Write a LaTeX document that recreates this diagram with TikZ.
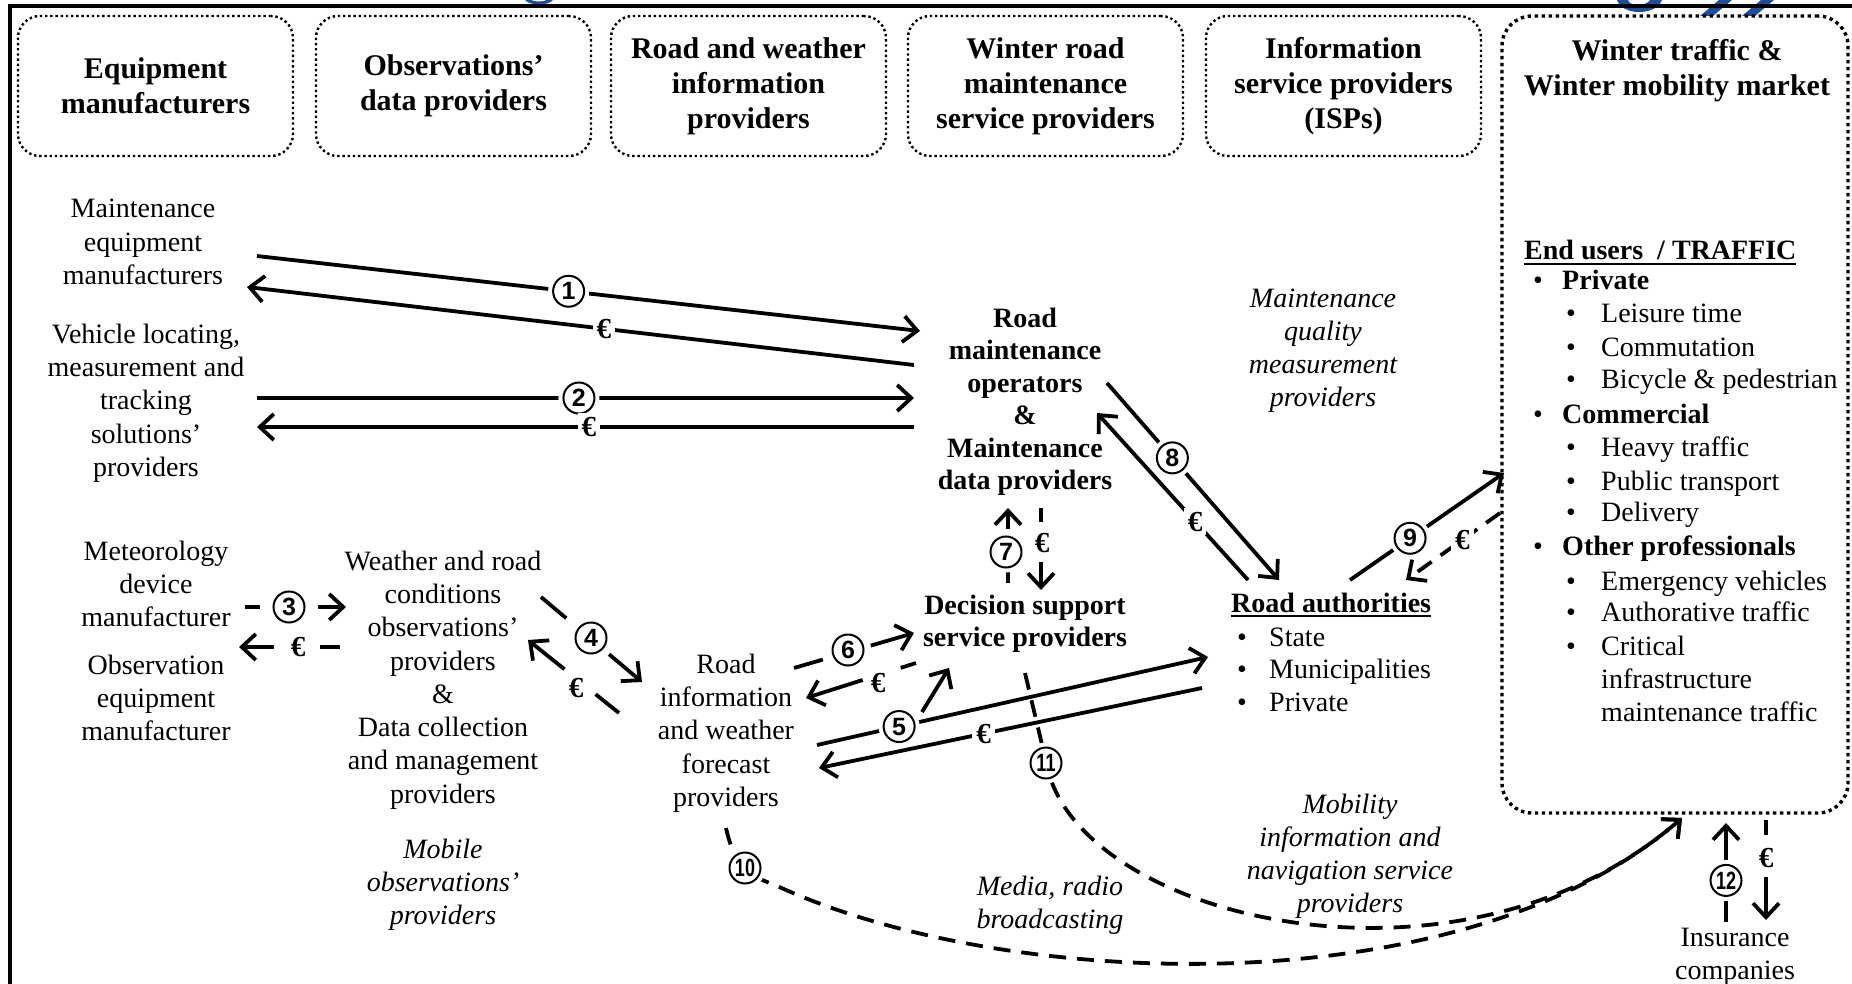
\documentclass[tikz,border=0pt]{standalone}
\usepackage{fontspec}
\usepackage{graphicx}
\setmainfont{Liberation Serif}
\newfontfamily\numfont{Liberation Sans}
\usetikzlibrary{arrows.meta}
\definecolor{logoblue}{RGB}{28,78,158}
\newcommand\myul[1]{\setbox0\hbox{#1}\rlap{\raisebox{-5pt}{\rule{\wd0}{1.8pt}}}\box0}
\newcommand\cn[1]{\scalebox{0.72}[1]{#1}}
\begin{document}
\begin{tikzpicture}[x=1pt,y=-1pt,
  hbox/.style={draw, line width=2.4pt, dash pattern=on 2.4pt off 2.8pt, rounded corners=22pt, minimum width=275pt, minimum height=140pt, align=center, inner sep=0pt, font=\fontsize{30}{35}\selectfont\bfseries},
  bigbox/.style={draw, line width=3.4pt, dash pattern=on 3.4pt off 3.6pt, rounded corners=30pt, minimum width=346pt, minimum height=797pt, inner sep=0pt},
  txt/.style={align=center, inner sep=0pt, font=\fontsize{28}{33.3}\selectfont},
  btxt/.style={align=center, inner sep=0pt, font=\fontsize{28}{32.5}\selectfont\bfseries},
  itxt/.style={align=center, inner sep=0pt, font=\fontsize{28}{33}\selectfont\itshape},
  ltxt/.style={anchor=base west, inner sep=0pt, font=\fontsize{28}{33}\selectfont},
  conn/.style={line width=3.8pt},
  arr/.style={conn, -{Straight Barb[length=14pt,width=26pt]}},
  dsh/.style={dash pattern=on 17pt off 11pt},
  circ/.style={circle, draw, line width=2pt, fill=white, minimum size=31pt, inner sep=0pt, font=\numfont\bfseries\fontsize{25}{25}\selectfont, preaction={draw=white, line width=10pt}},
  eur/.style={fill=white, inner sep=4pt, font=\fontsize{29}{29}\selectfont\bfseries},
  eurn/.style={inner sep=0pt, font=\fontsize{29}{29}\selectfont\bfseries},
]
\useasboundingbox (0,0) rectangle (1852,984);
\fill[white] (0,0) rectangle (1852,984);

% logo fragments
\fill[logoblue] (1617,0) .. controls (1622,16) and (1656,16) .. (1662,0) -- (1650,0) .. controls (1645,7) and (1630,7) .. (1628,0) -- cycle;
\fill[logoblue] (1700,16) -- (1713,16) -- (1732,0) -- (1719,0) -- cycle;
\fill[logoblue] (1742,16) -- (1755,16) -- (1774,0) -- (1761,0) -- cycle;
\fill[logoblue] (525,0) .. controls (530,6) and (548,6) .. (553,0) -- (547,0) .. controls (543,2) and (535,2) .. (531,0) -- cycle;

% frame
\draw[line width=4pt] (8,6.5) -- (1852,6.5);
\draw[line width=4pt] (10,4.5) -- (10,984);

% heading boxes
\node[hbox] (h1) at (155.5,86) {Equipment\\manufacturers};
\node[hbox] (h2) at (453.5,86) {Observations’\\data providers};
\node[hbox] (h3) at (748.5,86) {Road and weather\\information\\providers};
\node[hbox] (h4) at (1045.5,86) {Winter road\\maintenance\\service providers};
\node[hbox] (h5) at (1343.5,86) {Information\\service providers\\(ISPs)};
\node[bigbox] (h6) at (1675,414.5) {};
\node[font=\fontsize{30}{35}\selectfont\bfseries, align=center, inner sep=0pt] (h6t) at (1677,71) {Winter traffic \&\\Winter mobility market};

% actors
\node[txt] (t1) at (143,242) {Maintenance\\equipment\\manufacturers};
\node[txt] (t2) at (146,403) {Vehicle locating,\\measurement and\\tracking\\solutions’\\providers};
\node[txt] (t3) at (156,584) {Meteorology\\device\\manufacturer};
\node[txt] (t4) at (156,698) {Observation\\equipment\\manufacturer};
\node[txt] (t5) at (443,680) {Weather and road\\conditions\\observations’\\providers\\\&\\Data collection\\and management\\providers};
\node[itxt] (t6) at (443,885) {Mobile\\observations’\\providers};
\node[txt] (t7) at (726,733) {Road\\information\\and weather\\forecast\\providers};
\node[btxt] (t8) at (1025,402) {Road\\maintenance\\operators\\\&\\Maintenance\\data providers};
\node[btxt] (t9) at (1025,624) {Decision support\\service providers};
\node[itxt] (t10) at (1323,351) {Maintenance\\quality\\measurement\\providers};
\node[itxt] (t13) at (1050,905) {Media, radio\\broadcasting};
\node[itxt] (t14) at (1350,856) {Mobility\\information and\\navigation service\\providers};
\node[txt] (t15) at (1735,957) {Insurance\\companies};

% road authorities
\node[ltxt, font=\fontsize{28}{33}\selectfont\bfseries] (ra) at (1231,612) {\myul{Road authorities}};
\node[ltxt] (ra1) at (1237,646) {\makebox[32pt][l]{•}State};
\node[ltxt] (ra2) at (1237,678) {\makebox[32pt][l]{•}Municipalities};
\node[ltxt] (ra3) at (1237,711) {\makebox[32pt][l]{•}Private};

% end users
\node[ltxt, font=\fontsize{28}{33}\selectfont\bfseries] (eu0) at (1524,260) {\myul{End users~~/ TRAFFIC}};
\node[ltxt] (eu1) at (1533,290) {\makebox[29pt][l]{•}\textbf{Private}};
\node[ltxt] (eu2) at (1566,323) {\makebox[35pt][l]{•}Leisure time};
\node[ltxt] (eu3) at (1566,356) {\makebox[35pt][l]{•}Commutation};
\node[ltxt] (eu4) at (1566,388) {\makebox[35pt][l]{•}Bicycle \& pedestrian};
\node[ltxt] (eu5) at (1533,423) {\makebox[29pt][l]{•}\textbf{Commercial}};
\node[ltxt] (eu6) at (1566,456) {\makebox[35pt][l]{•}Heavy traffic};
\node[ltxt] (eu7) at (1566,490) {\makebox[35pt][l]{•}Public transport};
\node[ltxt] (eu8) at (1566,521) {\makebox[35pt][l]{•}Delivery};
\node[ltxt] (eu9) at (1533,555) {\makebox[29pt][l]{•}\textbf{Other professionals}};
\node[ltxt] (eu10) at (1566,590) {\makebox[35pt][l]{•}Emergency vehicles};
\node[ltxt] (eu11) at (1566,621) {\makebox[35pt][l]{•}Authorative traffic};
\node[ltxt] (eu12) at (1566,655) {\makebox[35pt][l]{•}Critical};
\node[ltxt] (eu13) at (1601,688) {infrastructure};
\node[ltxt] (eu14) at (1601,721) {maintenance traffic};

% coordinates
\coordinate (a1s) at (257,256);  \coordinate (a1e) at (920,331);
\coordinate (a1rs) at (914,365); \coordinate (a1re) at (247,287);
\coordinate (a2s) at (257,398);  \coordinate (a2e) at (914,398);
\coordinate (a2rs) at (914,427); \coordinate (a2re) at (257,427);
\coordinate (a3s) at (245,607);  \coordinate (a3e) at (346,607);
\coordinate (a3rs) at (340,647); \coordinate (a3re) at (239,647);
\coordinate (a4s) at (541,597);  \coordinate (a4e) at (642,682);
\coordinate (a4rs) at (619,713); \coordinate (a4re) at (528,640);
\coordinate (a5s) at (817,745);  \coordinate (a5e) at (1208,657);
\coordinate (a5b) at (922,712);  \coordinate (a5be) at (949,668);
\coordinate (a5rs) at (1202,688); \coordinate (a5re) at (819,768);
\coordinate (a6s) at (794,668);  \coordinate (a6e) at (914,633);
\coordinate (a6rs) at (916,663); \coordinate (a6re) at (806,698);
\coordinate (a7s) at (1008,583); \coordinate (a7e) at (1008,508);
\coordinate (a7rs) at (1041,508); \coordinate (a7re) at (1041,590);
\coordinate (a8s) at (1107,383); \coordinate (a8e) at (1279,580);
\coordinate (a8rs) at (1248,580); \coordinate (a8re) at (1097,413);
\coordinate (a9s) at (1350,580); \coordinate (a9e) at (1504,473);
\coordinate (a9rs) at (1500,513); \coordinate (a9re) at (1406,580);
\coordinate (a10s) at (726,828); \coordinate (a10m) at (775,885);
\coordinate (a11s) at (1025,673); \coordinate (a11m) at (1048,770);
\coordinate (tip) at (1682,818);
\coordinate (a12s) at (1726,922); \coordinate (a12e) at (1726,823);
\coordinate (a12rs) at (1766,820); \coordinate (a12re) at (1766,920);

% flows
\draw[arr] (a1s) -- (a1e) node[circ, pos=0.47] (n1) {1};
\draw[arr] (a1rs) -- (a1re) node[eur, pos=0.465] (e1) {€};
\draw[arr] (a2s) -- (a2e) node[circ, pos=0.49] (n2) {2};
\draw[arr] (a2rs) -- (a2re) node[eur, pos=0.495] (e2) {€};

\draw[arr, dash pattern=on 15pt off 58pt on 40pt] (a3s) -- (a3e);
\node[circ] (n3) at (289,607) {3};
\draw[arr, dash pattern=on 20pt off 46pt on 40pt] (a3rs) -- (a3re);
\node[eurn] (e3) at (298,647) {€};

\draw[arr, dash pattern=on 33pt off 56pt on 50pt] (a4s) -- (a4e);
\node[circ] (n4) at (591,638) {4};
\draw[arr, dash pattern=on 30pt off 40pt on 60pt] (a4rs) -- (a4re);
\node[eurn] (e4) at (576,688) {€};

\draw[arr] (a5s) -- (a5e) node[circ, pos=0.21] (n5) {5};
\draw[arr] (a5b) -- (a5be);
\draw[arr] (a5rs) -- (a5re) node[eur, pos=0.57] (e5) {€};

\draw[arr, dash pattern=on 30pt off 50pt on 60pt] (a6s) -- (a6e);
\node[circ] (n6) at (848,650) {6};
\draw[arr, dash pattern=on 16pt off 40pt on 70pt] (a6rs) -- (a6re);
\node[eurn] (e6) at (878,683) {€};

\draw[arr, dash pattern=on 11pt off 43pt on 40pt] (a7s) -- (a7e);
\node[circ] (n7) at (1006,552) {7};
\draw[arr, dash pattern=on 14pt off 40pt on 40pt] (a7rs) -- (a7re);
\node[eurn] (e7) at (1042,543) {€};

\draw[arr] (a8s) -- (a8e) node[circ, pos=0.38] (n8) {8};
\draw[arr] (a8rs) -- (a8re) node[eur, pos=0.35] (e8) {€};

\draw[arr] (a9s) -- (a9e) node[circ, pos=0.39] (n9) {9};
\draw[arr, dsh] (a9rs) -- (a9re) node[eur, pos=0.4] (e9) {€};

\draw[arr, dsh] (a10s) .. controls (733,860) and (745,875) .. (a10m) .. controls (1000,990) and (1460,1010) .. (tip);
\node[circ] (n10) at (745,868) {\cn{10}};
\draw[arr, dsh] (a11s) -- (a11m) .. controls (1085,920) and (1460,1010) .. (tip);
\node[circ] (n11) at (1046,763) {\cn{11}};

\draw[arr] (a12s) -- (a12e) node[circ, pos=0.42] (n12) {\cn{12}};
\draw[arr, dash pattern=on 15pt off 42pt on 45pt] (a12rs) -- (a12re);
\node[eurn] (e12) at (1766,858) {€};
\end{tikzpicture}
\end{document}
